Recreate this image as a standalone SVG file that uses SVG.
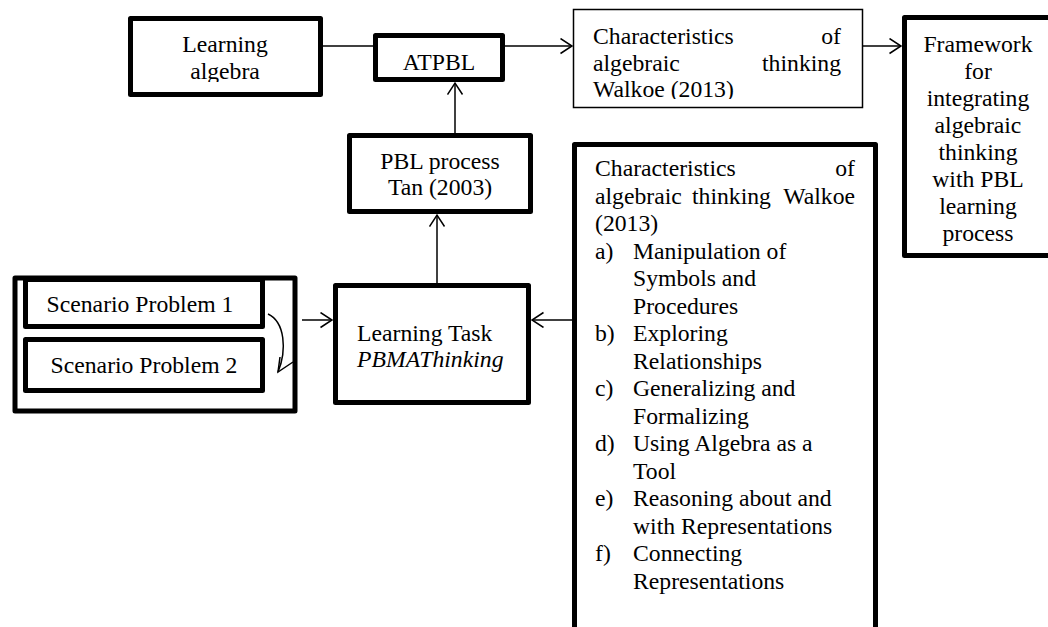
<svg xmlns="http://www.w3.org/2000/svg" width="1048" height="627" viewBox="0 0 1048 627">
<style>
.t{font-family:"Liberation Serif","Times New Roman",serif;font-size:23.7px;fill:#000}
.c{text-anchor:middle}
.e{text-anchor:end}
.thick{fill:#fff;stroke:#000;stroke-width:5;stroke-linejoin:round}
.thin{fill:#fff;stroke:#000;stroke-width:1.5}
.ln{fill:none;stroke:#000;stroke-width:1.5}
</style>
<defs>
<marker id="ah" markerUnits="userSpaceOnUse" markerWidth="16" markerHeight="18" refX="12" refY="8" orient="auto">
<path d="M0.5,0.5 L12,8 L0.5,15.5" fill="none" stroke="#000" stroke-width="1.5"/>
</marker>
<clipPath id="clipLA"><rect x="130" y="20" width="190" height="62"/></clipPath>
<clipPath id="clipCT"><rect x="575" y="11" width="286" height="88"/></clipPath>
</defs>
<rect width="1048" height="627" fill="#fff"/>

<g id="connectors">
<line class="ln" x1="323" y1="46" x2="373" y2="46"/>
<line class="ln" x1="505" y1="46" x2="572" y2="46" marker-end="url(#ah)"/>
<line class="ln" x1="863" y1="46" x2="901" y2="46" marker-end="url(#ah)"/>
<line class="ln" x1="455" y1="133" x2="455" y2="83" marker-end="url(#ah)"/>
<line class="ln" x1="437" y1="283" x2="437" y2="215" marker-end="url(#ah)"/>
<line class="ln" x1="302" y1="320" x2="332" y2="320" marker-end="url(#ah)"/>
<line class="ln" x1="572" y1="320" x2="532" y2="320" marker-end="url(#ah)"/>
</g>

<g id="learning-algebra">
<rect class="thick" x="130.5" y="18.5" width="190" height="76"/>
<g clip-path="url(#clipLA)">
<text class="t c" x="225" y="52">Learning</text>
<text class="t c" x="225" y="79">algebra</text>
</g>
</g>

<g id="atpbl">
<rect class="thick" x="375.5" y="35.5" width="127" height="44"/>
<text class="t c" x="439" y="70">ATPBL</text>
</g>

<g id="characteristics-top">
<rect class="thin" x="573.5" y="9.5" width="289" height="98"/>
<g clip-path="url(#clipCT)">
<text class="t" x="593" y="44">Characteristics</text>
<text class="t e" x="841" y="44">of</text>
<text class="t" x="593" y="71">algebraic</text>
<text class="t e" x="841" y="71">thinking</text>
<text class="t" x="593" y="97">Walkoe (2013)</text>
</g>
</g>

<g id="framework">
<rect class="thick" x="904.5" y="17.5" width="160" height="238"/>
<text class="t c" x="978" y="52">Framework</text>
<text class="t c" x="978" y="79">for</text>
<text class="t c" x="978" y="106">integrating</text>
<text class="t c" x="978" y="133">algebraic</text>
<text class="t c" x="978" y="160">thinking</text>
<text class="t c" x="978" y="187">with PBL</text>
<text class="t c" x="978" y="214">learning</text>
<text class="t c" x="978" y="241">process</text>
</g>

<g id="pbl-process">
<rect class="thick" x="349.5" y="135.5" width="181" height="76"/>
<text class="t c" x="440" y="169">PBL process</text>
<text class="t c" x="440" y="195">Tan (2003)</text>
</g>

<g id="learning-task">
<rect class="thick" x="335.5" y="285.5" width="193" height="117"/>
<text class="t" x="357" y="341">Learning Task</text>
<text class="t" x="357" y="367" font-style="italic">PBMAThinking</text>
</g>

<g id="scenarios">
<rect class="thick" x="15" y="278" width="280" height="133" stroke-width="4"/>
<rect class="thick" x="25.5" y="279.5" width="237" height="47"/>
<text class="t c" x="140" y="312">Scenario Problem 1</text>
<rect class="thick" x="25.5" y="339.5" width="237" height="51"/>
<text class="t c" x="144" y="373">Scenario Problem 2</text>
<path class="ln" d="M268,314 C285,322 287,350 278,372"/>
<polyline class="ln" points="280,357 278,372 293,362"/>
</g>

<g id="characteristics-list">
<path d="M574.5,640 V144.5 H875.5 V640" fill="#fff" stroke="#000" stroke-width="5" stroke-linejoin="round"/>
<text class="t" x="595" y="176">Characteristics</text>
<text class="t e" x="855" y="176">of</text>
<text class="t" x="595" y="203.5">algebraic</text>
<text class="t" x="692" y="203.5">thinking</text>
<text class="t e" x="855" y="203.5">Walkoe</text>
<text class="t" x="595" y="231">(2013)</text>
<text class="t" x="595" y="258.5">a)</text>
<text class="t" x="633" y="258.5">Manipulation of</text>
<text class="t" x="633" y="286">Symbols and</text>
<text class="t" x="633" y="313.5">Procedures</text>
<text class="t" x="595" y="341">b)</text>
<text class="t" x="633" y="341">Exploring</text>
<text class="t" x="633" y="368.5">Relationships</text>
<text class="t" x="595" y="396">c)</text>
<text class="t" x="633" y="396">Generalizing and</text>
<text class="t" x="633" y="423.5">Formalizing</text>
<text class="t" x="595" y="451">d)</text>
<text class="t" x="633" y="451">Using Algebra as a</text>
<text class="t" x="633" y="478.5">Tool</text>
<text class="t" x="595" y="506">e)</text>
<text class="t" x="633" y="506">Reasoning about and</text>
<text class="t" x="633" y="533.5">with Representations</text>
<text class="t" x="595" y="561">f)</text>
<text class="t" x="633" y="561">Connecting</text>
<text class="t" x="633" y="588.5">Representations</text>
</g>
</svg>
